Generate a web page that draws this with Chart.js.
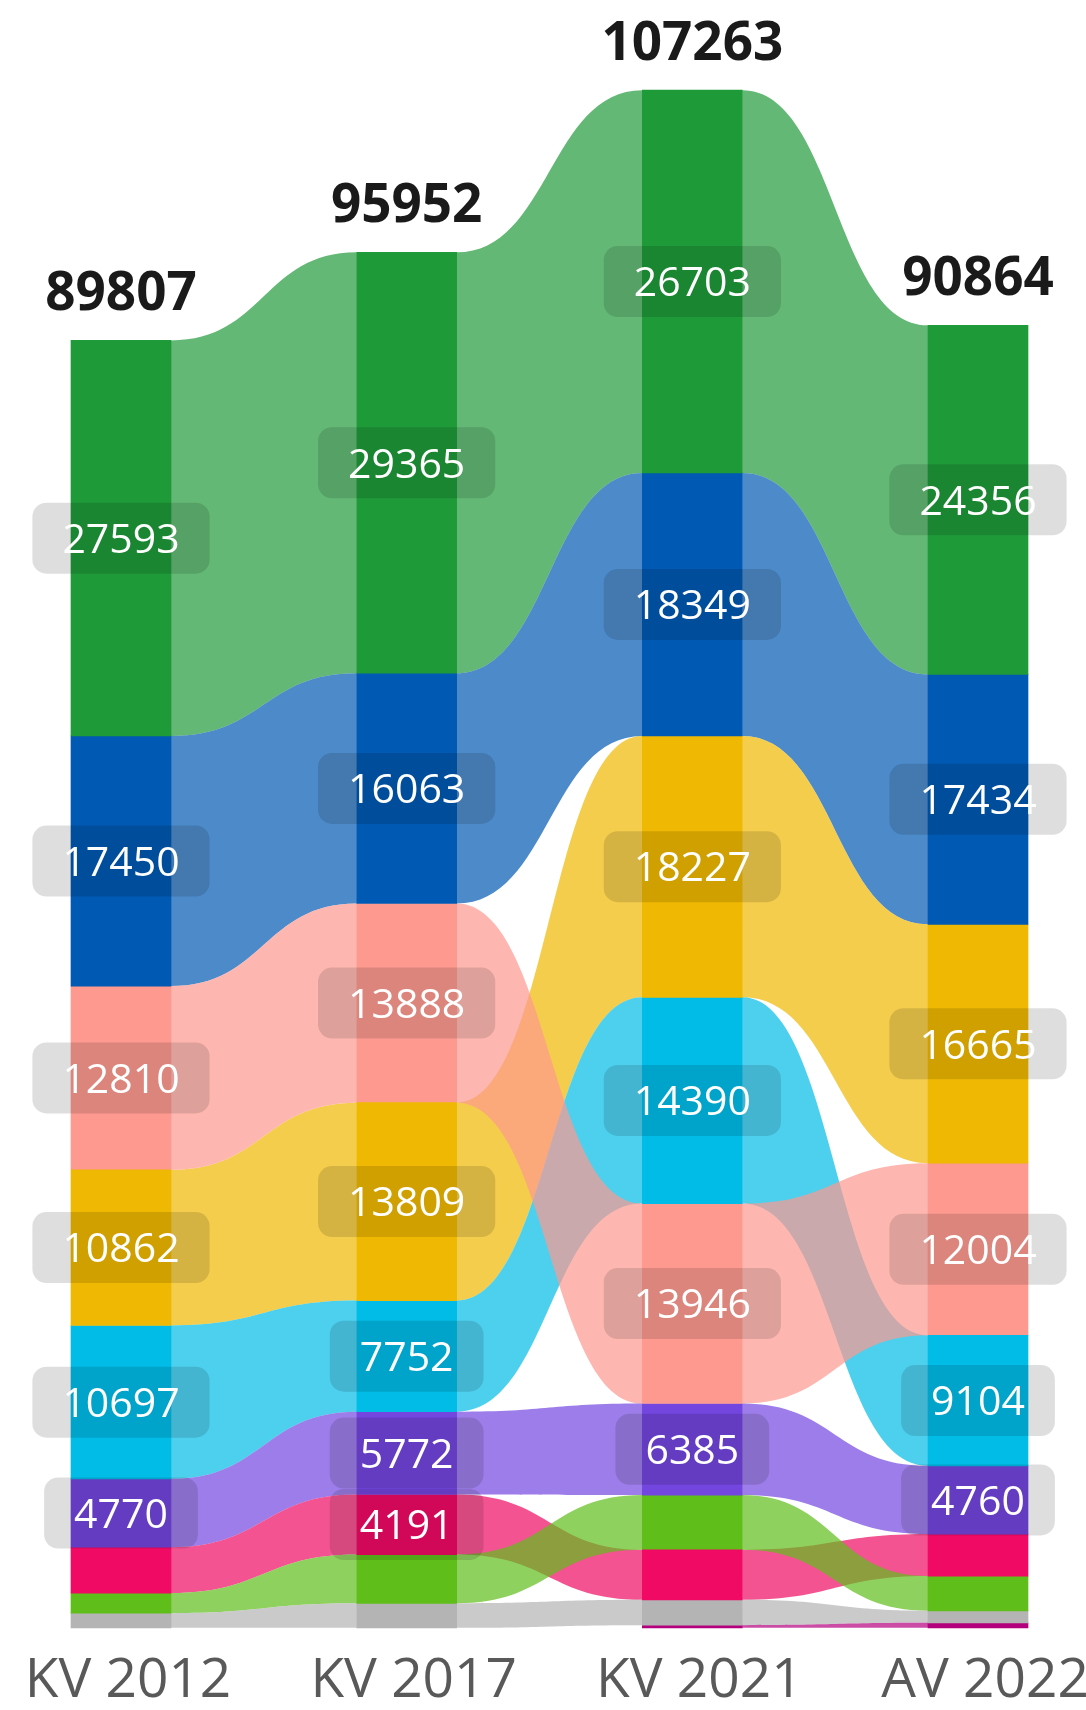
<!DOCTYPE html>
<html>
<head>
<meta charset="utf-8">
<script src="https://cdn.jsdelivr.net/npm/chart.js@4.4.1/dist/chart.umd.min.js"></script>
<style>
  html, body { margin: 0; padding: 0; background: #fff; overflow: hidden; }
  canvas { display: block; }
</style>
</head>
<body>
<canvas id="chart" width="1086" height="1710"></canvas>
<script>
const columns = ['KV 2012', 'KV 2017', 'KV 2021', 'AV 2022'];

// votes per group and election (null = not running)
const green = [27593, 29365, 26703, 24356];
const blue = [17450, 16063, 18349, 17434];
const yellow = [10862, 13809, 18227, 16665];
const cyan = [10697, 7752, 14390, 9104];
const pink = [12810, 13888, 13946, 12004];
const purple = [4770, 5772, 6385, 4760];
const magenta = [3200, 4191, 3490, 2932];
const lime = [1400, 3400, 3820, 2420];
const grey = [1025, 1712, 1767, 840];
const plum = [null, null, 186, 349];

// ribbons are drawn in this order, later ones end up on top
const groups = [green, blue, yellow, cyan, pink, purple, magenta, lime, grey, plum];
const colors = ['#1f9a39', '#0059b2', '#efb802', '#01bce7', '#fd998f', '#7346df', '#f00a64', '#5fbe1a', '#b4b4b4', '#b3007d'];

const labelMin = 4000;
const font = "'Open Sans', 'Noto Sans', sans-serif";

// stack every column with the biggest group on top
const ranges = groups.map(() => columns.map(() => null));
columns.forEach((c, j) => {
  const order = groups.map((g, i) => i)
    .filter(i => groups[i][j] != null)
    .sort((a, b) => groups[a][j] - groups[b][j]);
  let base = 0;
  order.forEach(i => {
    ranges[i][j] = [base, base + groups[i][j]];
    base += groups[i][j];
  });
});
const totals = columns.map((c, j) => groups.reduce((s, g) => s + (g[j] || 0), 0));

function fade(hex, a) {
  const n = parseInt(hex.slice(1), 16);
  return `rgba(${n >> 16},${(n >> 8) & 255},${n & 255},${a})`;
}

// curved bands between neighbouring bars
const ribbons = {
  id: 'ribbons',
  beforeDatasetsDraw(chart) {
    const ctx = chart.ctx;
    const y = chart.scales.y;
    ctx.save();
    chart.data.datasets.forEach((ds, i) => {
      const bars = chart.getDatasetMeta(i).data;
      for (let j = 0; j < columns.length - 1; j++) {
        const a = ds.data[j], b = ds.data[j + 1];
        if (!a || !b) continue;
        const x0 = bars[j].x + bars[j].width / 2;
        const x1 = bars[j + 1].x - bars[j + 1].width / 2;
        const xm = (x0 + x1) / 2;
        const t0 = y.getPixelForValue(a[1]), b0 = y.getPixelForValue(a[0]);
        const t1 = y.getPixelForValue(b[1]), b1 = y.getPixelForValue(b[0]);
        ctx.beginPath();
        ctx.moveTo(x0, t0);
        ctx.bezierCurveTo(xm, t0, xm, t1, x1, t1);
        ctx.lineTo(x1, b1);
        ctx.bezierCurveTo(xm, b1, xm, b0, x0, b0);
        ctx.closePath();
        ctx.fillStyle = fade(colors[i], 0.7);
        ctx.fill();
      }
    });
    ctx.restore();
  }
};

// value badges and column totals
const valueLabels = {
  id: 'valueLabels',
  afterDatasetsDraw(chart) {
    const ctx = chart.ctx;
    const x = chart.scales.x, y = chart.scales.y;
    ctx.save();
    ctx.textAlign = 'center';
    ctx.textBaseline = 'alphabetic';
    ctx.font = `41px ${font}`;
    chart.data.datasets.forEach((ds, i) => {
      ds.data.forEach((r, j) => {
        if (!r || groups[i][j] < labelMin) return;
        const cx = x.getPixelForValue(j);
        const cy = y.getPixelForValue((r[0] + r[1]) / 2);
        const txt = String(groups[i][j]);
        const w = ctx.measureText(txt).width + 60, h = 71;
        ctx.fillStyle = 'rgba(0,0,0,0.13)';
        ctx.beginPath();
        ctx.roundRect(cx - w / 2, cy - h / 2, w, h, 14);
        ctx.fill();
        ctx.fillStyle = '#ffffff';
        ctx.fillText(txt, cx, cy + 41 * 0.36);
      });
    });
    ctx.font = `bold 53px ${font}`;
    ctx.fillStyle = '#1a1a1a';
    totals.forEach((t, j) => {
      ctx.fillText(String(t), x.getPixelForValue(j), y.getPixelForValue(t) - 30);
    });
    ctx.restore();
  }
};

const datasets = groups.map((g, i) => ({
  data: ranges[i],
  backgroundColor: colors[i],
  borderWidth: 0,
  barThickness: 100,
  grouped: false,
  clip: false
}));

new Chart(document.getElementById('chart'), {
  type: 'bar',
  data: { labels: columns, datasets: datasets },
  options: {
    responsive: false,
    animation: false,
    devicePixelRatio: 1,
    layout: { padding: { left: 121, right: 108, top: 0, bottom: -24 } },
    plugins: {
      legend: { display: false },
      tooltip: { enabled: false }
    },
    scales: {
      x: {
        type: 'category',
        offset: false,
        grid: { display: false, drawTicks: false },
        border: { display: false },
        ticks: {
          color: '#595959',
          font: { family: font, size: 55, lineHeight: 1.93 },
          padding: 0,
          labelOffset: 7,
          maxRotation: 0,
          autoSkip: false
        }
      },
      y: {
        display: false,
        min: 0,
        max: 113550
      }
    }
  },
  plugins: [ribbons, valueLabels]
});
</script>
</body>
</html>
